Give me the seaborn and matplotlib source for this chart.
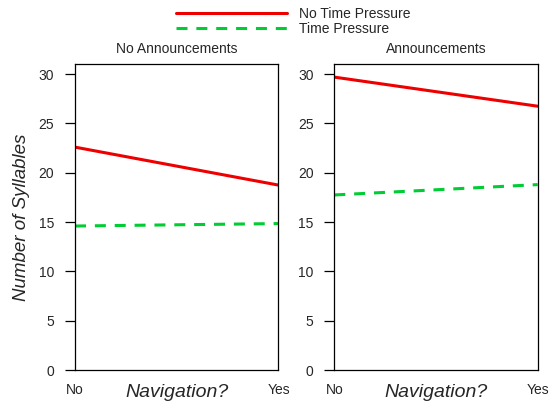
import matplotlib
matplotlib.use("Agg")
import matplotlib.pyplot as plt
import seaborn as sns
import pandas as pd
from matplotlib.lines import Line2D

# ---- data ----
navigation = ["No", "Yes"]
panels = ["No Announcements", "Announcements"]
series = ["No Time Pressure", "Time Pressure"]
no_tp_no_ann = [22.6, 18.75]
tp_no_ann = [14.6, 14.85]
no_tp_ann = [29.7, 26.75]
tp_ann = [17.75, 18.8]
y_ticks = [0, 5, 10, 15, 20, 25, 30]

rows = []
for panel, vals in [(panels[0], {series[0]: no_tp_no_ann, series[1]: tp_no_ann}),
                    (panels[1], {series[0]: no_tp_ann, series[1]: tp_ann})]:
    for s, v in vals.items():
        for nav, y in zip(navigation, v):
            rows.append({"panel": panel, "series": s, "nav": nav, "syll": y})
df = pd.DataFrame(rows)

sns.set_style("white")
plt.rcParams["font.family"] = ["Liberation Sans", "DejaVu Sans"]

colors = {series[0]: "#EE0000", series[1]: "#00CC33"}
dashes = {series[0]: "", series[1]: (3.6, 2.9)}

fig = plt.figure(figsize=(5.51, 4.05), dpi=100)
ax_pos = [(75 / 551, 1 - 370 / 405, 203.5 / 551, (370 - 64.3) / 405),
          (334.3 / 551, 1 - 370 / 405, 203.4 / 551, (370 - 64.3) / 405)]

for i, panel in enumerate(panels):
    ax = fig.add_axes(ax_pos[i])
    sub = df[df["panel"] == panel]
    sns.lineplot(data=sub, x="nav", y="syll", hue="series", style="series",
                 palette=colors, dashes=dashes, linewidth=2.2, ax=ax,
                 legend=False, sort=False)
    ax.set_xlim(0, 1)
    ax.set_ylim(0, 31)
    ax.set_yticks(y_ticks)
    ax.set_yticklabels([str(t) for t in y_ticks])
    ax.set_xticks([0, 1])
    ax.set_xticklabels(navigation)
    ax.tick_params(axis="y", which="both", left=True, length=7, width=0.9,
                   pad=8, labelsize=10, color="black")
    ax.tick_params(axis="x", length=0, pad=9, labelsize=10)
    for sp in ax.spines.values():
        sp.set_color("black")
        sp.set_linewidth(0.9)
    ax.set_ylabel("")
    ax.set_xlabel("Navigation?", fontsize=14, fontstyle="italic", labelpad=-9)
    ax.set_title(panel, fontsize=10, pad=8)

fig.text(22 / 551, 1 - 217 / 405, "Number of Syllables", rotation=90,
         fontsize=13.5, fontstyle="italic", ha="center", va="center")

handles = [Line2D([], [], color=colors[series[0]], lw=2.2),
           Line2D([], [], color=colors[series[1]], lw=2.2, dashes=dashes[series[1]])]
fig.legend(handles, series, loc="upper left", bbox_to_anchor=(176 / 551, 1 - 7 / 405),
           frameon=False, fontsize=10, handlelength=8.0, handletextpad=0.85,
           labelspacing=0.05, borderpad=0, borderaxespad=0)

fig.savefig("out.png", dpi=100)
